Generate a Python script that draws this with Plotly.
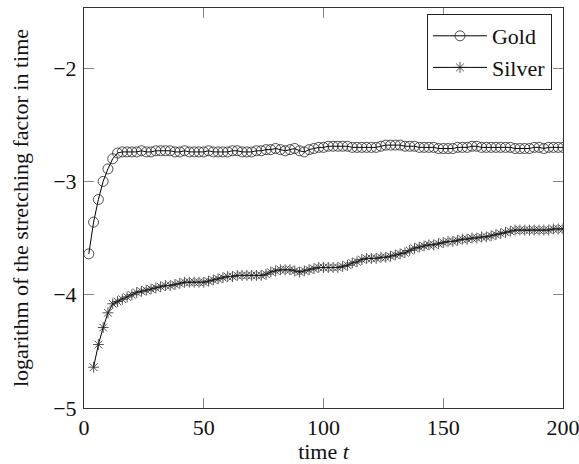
import plotly.graph_objects as go

gold_t = list(range(2, 201, 2))
gold_vals = [
    -3.64, -3.36, -3.16, -3.00, -2.89, -2.80, -2.75, -2.74, -2.74, -2.74,
    -2.74, -2.73, -2.74, -2.74, -2.73, -2.73, -2.73, -2.73, -2.74, -2.74,
    -2.73, -2.74, -2.74, -2.74, -2.74, -2.73, -2.74, -2.74, -2.74, -2.74,
    -2.73, -2.73, -2.74, -2.74, -2.74, -2.73, -2.73, -2.72, -2.72, -2.71,
    -2.72, -2.73, -2.72, -2.71, -2.73, -2.74, -2.72, -2.71, -2.70, -2.70,
    -2.69, -2.69, -2.69, -2.69, -2.69, -2.70, -2.70, -2.70, -2.70, -2.70,
    -2.70, -2.69, -2.68, -2.68, -2.68, -2.68, -2.69, -2.69, -2.69, -2.70,
    -2.70, -2.70, -2.70, -2.71, -2.71, -2.71, -2.71, -2.70, -2.70, -2.70,
    -2.69, -2.69, -2.70, -2.70, -2.70, -2.70, -2.70, -2.70, -2.70, -2.71,
    -2.71, -2.71, -2.71, -2.70, -2.70, -2.71, -2.70, -2.70, -2.70, -2.70,
]

silver_t = list(range(4, 201, 2))
silver_vals = [
    -4.64, -4.44, -4.29, -4.16, -4.08, -4.06, -4.04, -4.02, -4.00, -3.98,
    -3.97, -3.96, -3.95, -3.94, -3.93, -3.92, -3.92, -3.91, -3.90, -3.89,
    -3.89, -3.89, -3.89, -3.89, -3.88, -3.87, -3.86, -3.85, -3.84, -3.84,
    -3.83, -3.83, -3.83, -3.83, -3.83, -3.83, -3.82, -3.80, -3.79, -3.78,
    -3.78, -3.78, -3.79, -3.80, -3.79, -3.78, -3.77, -3.76, -3.76, -3.76,
    -3.76, -3.76, -3.75, -3.74, -3.72, -3.71, -3.69, -3.68, -3.68, -3.68,
    -3.67, -3.67, -3.66, -3.65, -3.64, -3.63, -3.61, -3.59, -3.58, -3.57,
    -3.56, -3.56, -3.55, -3.54, -3.53, -3.53, -3.52, -3.51, -3.51, -3.50,
    -3.50, -3.49, -3.49, -3.48, -3.47, -3.46, -3.45, -3.44, -3.43, -3.43,
    -3.43, -3.43, -3.43, -3.43, -3.43, -3.43, -3.42, -3.42, -3.42,
]

x_ticks = [0, 50, 100, 150, 200]
y_ticks = [-5, -4, -3, -2]

FONT = "Liberation Serif"
TXT = "#111111"
FS = 22

fig = go.Figure()
fig.add_trace(go.Scatter(
    x=gold_t, y=gold_vals, name="Gold", mode="lines+markers",
    line=dict(color="black", width=1),
    marker=dict(symbol="circle-open", size=10, color="#222222",
                line=dict(width=0.8, color="#222222")),
))
fig.add_trace(go.Scatter(
    x=silver_t, y=silver_vals, name="Silver", mode="lines+markers",
    line=dict(color="black", width=1),
    marker=dict(symbol="asterisk-open", size=9, color="#222222",
                line=dict(width=0.8, color="#222222")),
))

axis_common = dict(
    showgrid=False, zeroline=False, showline=True, linecolor="#333333",
    linewidth=1, mirror="ticks", ticks="inside", ticklen=10,
    tickcolor="#888888", tickwidth=1, automargin=False,
    ticklabeloverflow="allow",
    tickfont=dict(family=FONT, size=FS, color=TXT),
)

fig.update_layout(
    width=579, height=464,
    margin=dict(l=84, r=16, t=8, b=56),
    paper_bgcolor="white", plot_bgcolor="white",
    font=dict(family=FONT, size=FS, color=TXT),
    showlegend=True,
    legend=dict(
        x=0.977, y=0.985, xanchor="right", yanchor="top",
        bgcolor="white", bordercolor="#222222", borderwidth=1,
        font=dict(family=FONT, size=FS, color=TXT),
        tracegroupgap=0, itemwidth=54,
    ),
    xaxis=dict(
        range=[0, 200], tickvals=x_ticks,
        title=dict(text="time <i>t</i>", font=dict(family=FONT, size=FS, color=TXT), standoff=8),
        **axis_common,
    ),
    yaxis=dict(
        range=[-5, -1.47], tickvals=y_ticks, ticklabelstandoff=2,
        title=dict(text="logarithm of the stretching factor in time",
                   font=dict(family=FONT, size=FS, color=TXT), standoff=18),
        **axis_common,
    ),
)

fig.write_html(
    "out.html",
    config={"displayModeBar": False},
    post_script="document.body.style.margin='0';document.body.style.overflow='hidden';",
)
